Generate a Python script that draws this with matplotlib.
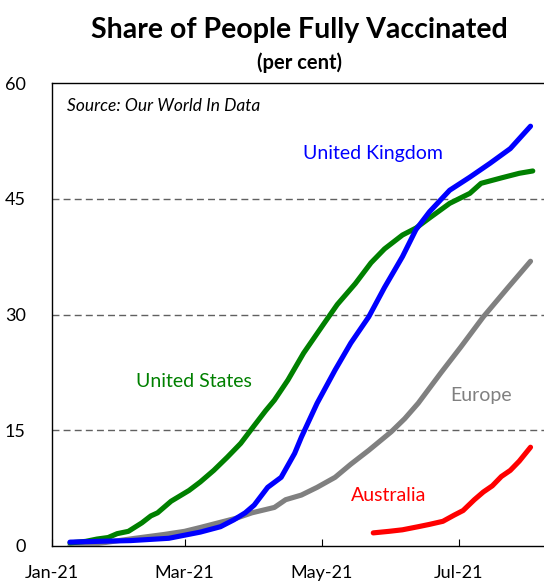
import matplotlib
matplotlib.use("Agg")
import matplotlib.pyplot as plt
import numpy as np

plt.rcParams['font.family'] = ['Lato', 'DejaVu Sans']

uk_dates = ["2021-01-09", "2021-01-21", "2021-02-05", "2021-02-22", "2021-03-08", "2021-03-17",
            "2021-03-23", "2021-03-28", "2021-04-01", "2021-04-07", "2021-04-13", "2021-04-19",
            "2021-04-22", "2021-04-29", "2021-05-07", "2021-05-14", "2021-05-22", "2021-05-29",
            "2021-06-06", "2021-06-12", "2021-06-18", "2021-06-27", "2021-07-06", "2021-07-15",
            "2021-07-24", "2021-08-02"]
uk_values = [0.5, 0.6, 0.7, 1.0, 1.8, 2.5, 3.4, 4.3, 5.3, 7.6, 8.9, 12.0, 14.1, 18.5, 22.8, 26.3,
             29.7, 33.5, 37.5, 41.0, 43.3, 46.1, 47.8, 49.6, 51.5, 54.4]

us_dates = ["2021-01-09", "2021-01-16", "2021-01-21", "2021-01-26", "2021-01-30", "2021-02-04",
            "2021-02-10", "2021-02-14", "2021-02-17", "2021-02-23", "2021-03-03", "2021-03-08",
            "2021-03-14", "2021-03-20", "2021-03-26", "2021-04-01", "2021-04-06", "2021-04-10",
            "2021-04-16", "2021-04-23", "2021-05-02", "2021-05-08", "2021-05-16", "2021-05-23",
            "2021-05-29", "2021-06-06", "2021-06-12", "2021-06-18", "2021-06-27", "2021-07-06",
            "2021-07-11", "2021-07-20", "2021-07-28", "2021-08-03"]
us_values = [0.4, 0.6, 0.9, 1.1, 1.6, 1.9, 3.0, 3.9, 4.3, 5.8, 7.2, 8.3, 9.8, 11.5, 13.3, 15.6,
             17.5, 18.9, 21.5, 25.0, 28.8, 31.3, 34.0, 36.7, 38.5, 40.3, 41.2, 42.5, 44.4, 45.7,
             47.0, 47.7, 48.3, 48.6]

eu_dates = ["2021-01-09", "2021-01-21", "2021-02-07", "2021-02-20", "2021-03-01", "2021-03-08",
            "2021-03-16", "2021-03-24", "2021-03-31", "2021-04-10", "2021-04-15", "2021-04-22",
            "2021-04-29", "2021-05-07", "2021-05-14", "2021-05-22", "2021-06-01", "2021-06-07",
            "2021-06-13", "2021-06-23", "2021-07-02", "2021-07-12", "2021-07-23", "2021-08-02"]
eu_values = [0.05, 0.3, 1.0, 1.5, 1.9, 2.4, 3.0, 3.6, 4.3, 5.0, 6.0, 6.6, 7.6, 8.9, 10.6, 12.4,
             14.8, 16.5, 18.5, 22.4, 25.8, 29.7, 33.5, 36.9]

au_dates = ["2021-05-24", "2021-05-31", "2021-06-06", "2021-06-13", "2021-06-18", "2021-06-24",
            "2021-06-29", "2021-07-03", "2021-07-08", "2021-07-12", "2021-07-16", "2021-07-20",
            "2021-07-24", "2021-07-28", "2021-08-02"]
au_values = [1.7, 1.9, 2.1, 2.5, 2.8, 3.2, 4.0, 4.6, 6.0, 7.0, 7.8, 9.0, 9.8, 11.0, 12.8]

x_ticks = ["2021-01-01", "2021-03-01", "2021-05-01", "2021-07-01"]
x_tick_labels = ["Jan-21", "Mar-21", "May-21", "Jul-21"]
y_ticks = [0, 15, 30, 45, 60]

fig = plt.figure(figsize=(5.44, 5.85), dpi=100)
ax = fig.add_axes([52/544, 1-546/585, 1-52/544, (546-83)/585])

def d(lst):
    return np.array(lst, dtype='datetime64[D]')

lw = 3.7
ax.plot(d(eu_dates), eu_values, color='#808080', lw=lw, solid_capstyle='round', zorder=3)
ax.plot(d(us_dates), us_values, color='#008000', lw=lw, solid_capstyle='round', zorder=4)
ax.plot(d(uk_dates), uk_values, color='#0000FF', lw=lw, solid_capstyle='round', zorder=5)
ax.plot(d(au_dates), au_values, color='#FF0000', lw=lw, solid_capstyle='round', zorder=5)

ax.set_xlim(np.datetime64("2021-01-01"), np.datetime64("2021-08-08"))
ax.set_ylim(0, 60)

for yv in [15, 30, 45]:
    ax.axhline(yv, color='#606060', lw=1.0, ls=(0, (5, 3)), zorder=1)

ax.set_xticks(d(x_ticks))
ax.set_xticklabels(x_tick_labels, fontsize=13)
ax.set_yticks(y_ticks)
ax.set_yticklabels([str(v) for v in y_ticks], fontsize=13)
ax.tick_params(axis='x', direction='in', length=5, pad=14, color='black')
ax.tick_params(axis='y', length=0, pad=19)

ax.spines['right'].set_visible(False)
for s in ['left', 'bottom', 'top']:
    ax.spines[s].set_linewidth(1.0)
    ax.spines[s].set_color('black')

ax.text(0.03, 0.968, "Source: Our World In Data", transform=ax.transAxes, fontsize=12.5,
        style='italic', ha='left', va='top')
ax.text(np.datetime64("2021-05-24"), 50.8, "United Kingdom", color='#0000FF', fontsize=14,
        ha='center', va='center')
ax.text(np.datetime64("2021-03-05"), 21.3, "United States", color='#008000', fontsize=14,
        ha='center', va='center')
ax.text(np.datetime64("2021-07-11"), 19.5, "Europe", color='#808080', fontsize=14,
        ha='center', va='center')
ax.text(np.datetime64("2021-05-31"), 6.5, "Australia", color='#FF0000', fontsize=14,
        ha='center', va='center')

fig.text(0.55, 1-30/585, "Share of People Fully Vaccinated", fontsize=20.5, fontweight='bold',
         ha='center', va='center')
fig.text(0.55, 1-63/585, "(per cent)", fontsize=14.5, fontweight='bold', ha='center', va='center')

fig.savefig("out.png", dpi=100)
